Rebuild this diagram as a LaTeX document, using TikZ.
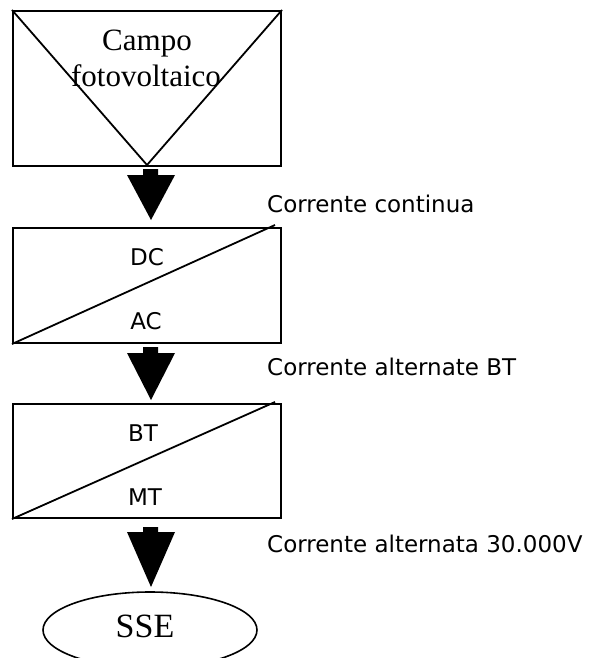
\documentclass[tikz,border=0pt]{standalone}
\usepackage{fontspec}
\setmainfont{Liberation Serif}
\newfontfamily\labelfont{DejaVu Sans}
\begin{document}
\begin{tikzpicture}[x=1pt,y=-1pt,
  boxline/.style={draw=black,line width=2pt},
  diag/.style={draw=black,line width=1.8pt},
  box/.style={boxline,rectangle,inner sep=0pt,anchor=north west},
  sanslbl/.style={inner sep=0pt,font=\labelfont\fontsize{23}{27}\selectfont},
  seriflbl/.style={inner sep=0pt,font=\fontsize{31}{36}\selectfont},
  blockarrow/.style={fill=black,draw=none}
]
\useasboundingbox (0,0) rectangle (589,658);
\clip (0,0) rectangle (589,658);
\fill[white] (0,0) rectangle (589,658);

% box 1
\node[box,minimum width=268pt,minimum height=155pt] (pv) at (12,10) {};
\draw[diag] (pv.north west) -- (147,165) -- (pv.north east);
\node[seriflbl,anchor=base] (campo) at (147,51) {Campo};
\node[seriflbl,anchor=base] (foto) at (146,87) {fotovoltaico};

% arrow 1
\fill[blockarrow] (143,169) -- (158,169) -- (158,175) -- (175,175) -- (151,220) -- (127,175) -- (143,175) -- cycle;
\node[sanslbl,anchor=base west] (l1) at (267,212) {Corrente continua};

% box 2
\node[box,minimum width=268pt,minimum height=115pt] (inv) at (12,227) {};
\coordinate (d2) at (275,225);
\draw[diag] (inv.south west) -- (d2);
\node[sanslbl,anchor=base] (dc) at (147,265) {DC};
\node[sanslbl,anchor=base] (ac) at (146,329) {AC};

% arrow 2
\fill[blockarrow] (143,347) -- (158,347) -- (158,353) -- (175,353) -- (151,400) -- (127,353) -- (143,353) -- cycle;
\node[sanslbl,anchor=base west] (l2) at (267,375) {Corrente alternate BT};

% box 3
\node[box,minimum width=268pt,minimum height=114pt] (tr) at (12,403) {};
\coordinate (d3) at (275,402);
\draw[diag] (tr.south west) -- (d3);
\node[sanslbl,anchor=base] (bt) at (143,441) {BT};
\node[sanslbl,anchor=base] (mt) at (145,505) {MT};

% arrow 3
\fill[blockarrow] (143,527) -- (158,527) -- (158,532) -- (175,532) -- (151,587) -- (127,532) -- (143,532) -- cycle;
\node[sanslbl,anchor=base west] (l3) at (267,552) {Corrente alternata 30.000V};

% ellipse
\draw[line width=1.6pt] (150,630) ellipse [x radius=107pt, y radius=38pt];
\node[inner sep=0pt,font=\fontsize{34}{40}\selectfont,anchor=base] (sse) at (145,637) {SSE};
\end{tikzpicture}
\end{document}
